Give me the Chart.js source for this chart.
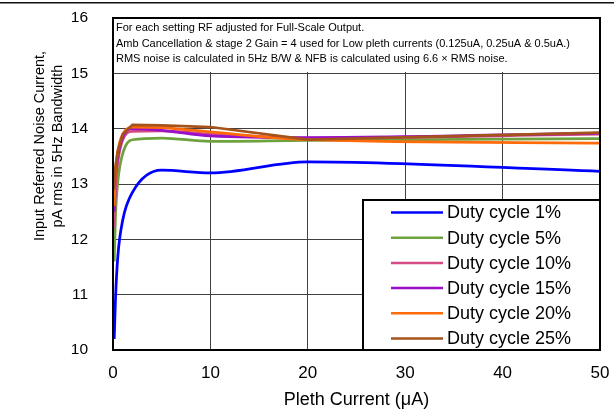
<!DOCTYPE html>
<html>
<head>
<meta charset="utf-8">
<style>
  html, body { margin: 0; padding: 0; background: #fff; }
</style>
</head>
<body>
<canvas id="myChart" width="614" height="413"></canvas>
<script src="https://cdn.jsdelivr.net/npm/chart.js@4.4.1/dist/chart.umd.min.js"></script>
<script>
  // pleth current in uA, noise in pA rms (5Hz bandwidth)
  const plethCurrent = [0.125, 0.25, 0.5, 1, 2, 5, 10, 20, 50]
  const duty1  = [10.2, 10.9, 11.7, 12.35, 12.85, 13.25, 13.2, 13.4, 13.23]
  const duty5  = [11.6, 12.4, 13.05, 13.55, 13.8, 13.83, 13.77, 13.79, 13.82]
  const duty10 = [12.2, 12.9, 13.4, 13.8, 13.95, 13.96, 13.9, 13.83, 13.9]
  const duty15 = [12.5, 13.1, 13.5, 13.85, 14.0, 13.97, 13.87, 13.84, 13.92]
  const duty20 = [12.6, 13.2, 13.6, 13.9, 14.03, 14.02, 13.94, 13.8, 13.74]
  const duty25 = [12.9, 13.3, 13.6, 13.9, 14.07, 14.06, 14.03, 13.8, 13.93]

  const seriesNames = ['Duty cycle 1%', 'Duty cycle 5%', 'Duty cycle 10%', 'Duty cycle 15%', 'Duty cycle 20%', 'Duty cycle 25%']
  const seriesColors = ['#0000ff', '#6ea23f', '#d44a82', '#9a0fc9', '#ff6a0a', '#a5531a']
  const yTicks = [10, 11, 12, 13, 14, 15, 16]
  const xTicks = [0, 10, 20, 30, 40, 50]

  const noteLines = [
    'For each setting RF adjusted for Full-Scale Output.',
    'Amb Cancellation & stage 2 Gain = 4 used for Low pleth currents (0.125uA, 0.25uA & 0.5uA.)',
    'RMS noise is calculated in 5Hz B/W & NFB is calculated using 6.6 \u00d7 RMS noise.'
  ]
  const yTitle = ['Input Referred Noise Current,', 'pA rms in 5Hz Bandwidth']

  const allSeries = [duty1, duty5, duty10, duty15, duty20, duty25]
  const datasets = allSeries.map((vals, i) => ({
    label: seriesNames[i],
    data: vals.map((v, j) => ({ x: plethCurrent[j], y: v })),
    borderColor: seriesColors[i],
    backgroundColor: seriesColors[i],
    borderWidth: 2.75,
    pointRadius: 0,
    fill: false,
    order: 5 - i,
    tension: i == 5 ? 0 : 0.4,
    cubicInterpolationMode: i == 5 ? 'default' : 'monotone'
  }))

  // white note box + text over the top of the plot
  const notePlugin = {
    id: 'note',
    beforeDatasetsDraw(chart) {
      const ctx = chart.ctx
      const area = chart.chartArea
      const y15 = chart.scales.y.getPixelForValue(15)
      ctx.save()
      ctx.fillStyle = '#fff'
      ctx.fillRect(area.left + 1, area.top, area.width - 2, Math.round(y15) - area.top - 1)
      ctx.fillStyle = '#000'
      ctx.textBaseline = 'middle'
      ctx.font = '10px "Liberation Sans"'
      var w = ctx.measureText(noteLines[1]).width
      var size = 10 * 454 / w
      ctx.font = size.toFixed(2) + 'px "Liberation Sans"'
      for (let i = 0; i < noteLines.length; i++) {
        ctx.fillText(noteLines[i], area.left + 3, area.top + 10 + i * 15.5)
      }
      ctx.restore()
    },
    afterDraw(chart) {
      const ctx = chart.ctx
      const area = chart.chartArea
      ctx.save()
      // frame of plot
      ctx.strokeStyle = '#000'
      ctx.lineWidth = 2
      ctx.strokeRect(area.left, area.top, area.width, area.height)
      // rule at the top of the figure
      ctx.fillStyle = '#111'
      ctx.fillRect(0, 2, chart.width, 1.5)

      // legend box
      const bw = 237, bh = 150
      const bl = area.right - bw, bt = area.bottom - bh
      ctx.fillStyle = '#fff'
      ctx.fillRect(bl, bt, bw, bh)
      ctx.strokeRect(bl, bt, bw, bh)
      ctx.font = '18px "Liberation Sans"'
      ctx.textBaseline = 'middle'
      chart.data.datasets.forEach((ds, i) => {
        const y = bt + 12.5 + i * 25.2
        ctx.strokeStyle = ds.borderColor
        ctx.lineWidth = 2.5
        ctx.beginPath()
        ctx.moveTo(bl + 28, y)
        ctx.lineTo(bl + 80, y)
        ctx.stroke()
        ctx.fillStyle = '#000'
        ctx.fillText(ds.label, bl + 84, y + 1)
      })

      // y axis title, two lines
      ctx.font = '14.5px "Liberation Sans"'
      ctx.textAlign = 'center'
      ctx.fillStyle = '#000'
      ctx.translate(40, 146)
      ctx.rotate(-Math.PI / 2)
      ctx.fillText(yTitle[0], 0, 0)
      ctx.fillText(yTitle[1], 0, 18)
      ctx.restore()
    }
  }

  const ctx = document.getElementById('myChart').getContext('2d')
  const chart = new Chart(ctx, {
    type: 'line',
    data: { datasets: datasets },
    plugins: [notePlugin],
    options: {
      responsive: false,
      animation: false,
      devicePixelRatio: 1,
      layout: { padding: { top: 18, right: 14, left: 0, bottom: 0 } },
      plugins: {
        legend: { display: false },
        tooltip: { enabled: false }
      },
      scales: {
        x: {
          type: 'linear',
          min: xTicks[0],
          max: xTicks[xTicks.length - 1],
          afterFit(scale) {
            scale.height = 63
            scale.paddingLeft = 0
            scale.paddingRight = 0
          },
          afterBuildTicks(scale) { scale.ticks = xTicks.map(v => ({ value: v })) },
          grid: { color: '#404040', lineWidth: 1, drawTicks: false },
          border: { color: '#000', width: 2 },
          ticks: { color: '#000', padding: 13, font: { family: 'Liberation Sans', size: 17 } },
          title: {
            display: true,
            text: 'Pleth Current (\u03bcA)',
            color: '#000',
            padding: { top: 2, bottom: 2 },
            font: { family: 'Liberation Sans', size: 18 }
          }
        },
        y: {
          min: yTicks[0],
          max: yTicks[yTicks.length - 1],
          afterFit(scale) {
            scale.width = 113
            scale.paddingTop = 0
            scale.paddingBottom = 0
          },
          afterBuildTicks(scale) { scale.ticks = yTicks.map(v => ({ value: v })) },
          grid: { color: '#404040', lineWidth: 1, drawTicks: false },
          border: { color: '#000', width: 2 },
          ticks: { color: '#000', padding: 25, font: { family: 'Liberation Sans', size: 15.5 } }
        }
      }
    }
  })
</script>
</body>
</html>
